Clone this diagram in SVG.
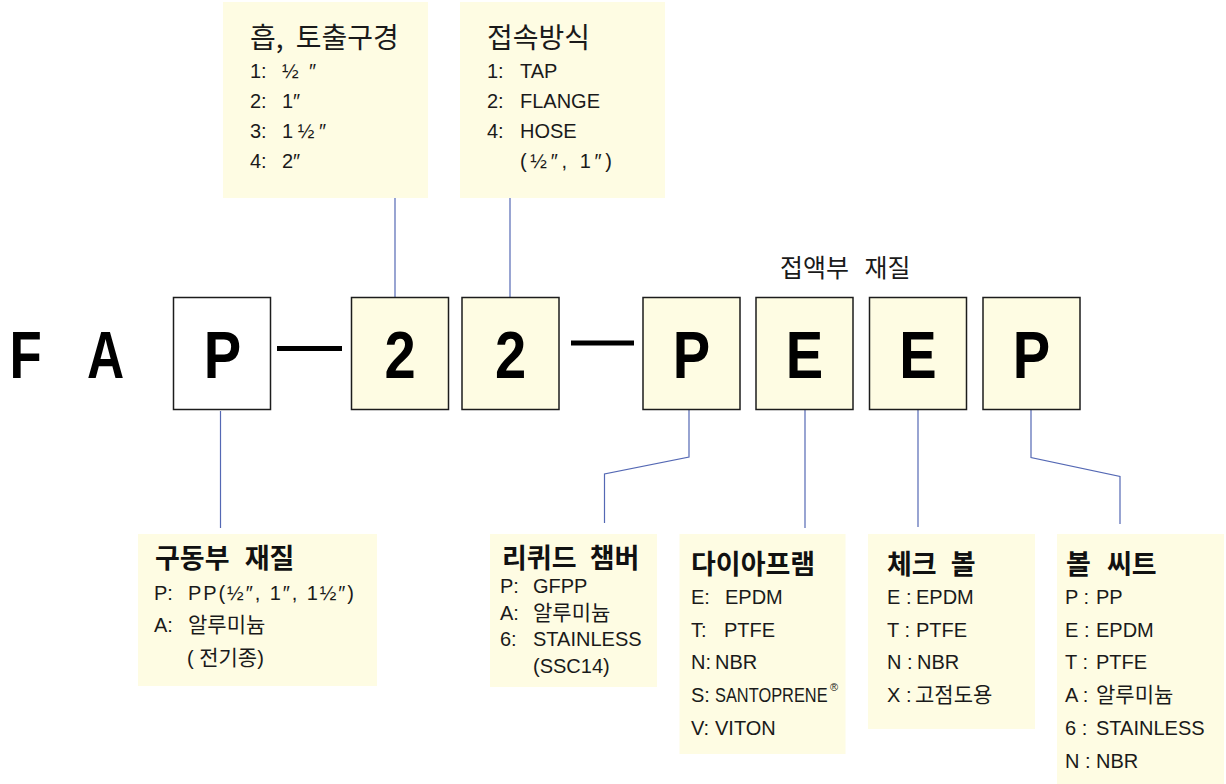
<svg xmlns="http://www.w3.org/2000/svg" width="1226" height="784" viewBox="0 0 1226 784">
<style>
.pad{fill:#fefce3}
.cell{fill:#fefce3;stroke:#1c1c1c;stroke-width:1.5}
.cellw{fill:#ffffff;stroke:#1c1c1c;stroke-width:1.5}
.big{font-family:'Liberation Sans',Arial,sans-serif;font-weight:bold;font-size:66px;fill:#000;text-anchor:middle}
.t{font-family:'Liberation Sans','Noto Sans CJK KR',sans-serif;font-size:20px;fill:#1a1a1a}
.sup{font-family:'Liberation Sans',sans-serif;font-size:11px;fill:#1a1a1a}
.k{font-family:'Noto Sans CJK KR',sans-serif;font-size:21px}
.h{font-family:'Noto Sans CJK KR',sans-serif;font-size:28px;fill:#1a1a1a}
.hb{font-family:'Noto Sans CJK KR',sans-serif;font-size:27px;font-weight:bold;fill:#111}
.lbl{font-family:'Noto Sans CJK KR',sans-serif;font-size:25px;fill:#1a1a1a}
.conn{stroke:#5468b4;stroke-width:1.2;fill:none}
.dash{stroke:#000;stroke-width:5}
</style>

<g id="connectors">
<path class="conn" d="M395 198 V297"/>
<path class="conn" d="M510 198 V297"/>
<path class="conn" d="M220.5 411 V528"/>
<path class="conn" d="M689 410 V457 L604.5 474 V523"/>
<path class="conn" d="M805 410 V528"/>
<path class="conn" d="M918 410 V527"/>
<path class="conn" d="M1031 410 V457.5 L1120 476.5 V524"/>
<line class="dash" x1="277" y1="348.5" x2="342" y2="348.5"/>
<line class="dash" x1="571" y1="343" x2="634" y2="343"/>
</g>

<g id="prefix">
<text class="big" transform="translate(25.5,378) scale(0.8,1)">F</text>
<text class="big" transform="translate(105.5,378) scale(0.78,1)">A</text>
</g>

<g id="cell-P1">
<rect class="cellw" x="173.5" y="297.5" width="97" height="112"/>
<text class="big" transform="translate(222.5,378) scale(0.85,1)">P</text>
</g>
<g id="cell-2a">
<rect class="cell" x="351.5" y="297.5" width="97" height="112"/>
<text class="big" transform="translate(400,378) scale(0.85,1)">2</text>
</g>
<g id="cell-2b">
<rect class="cell" x="462" y="297.5" width="97" height="112"/>
<text class="big" transform="translate(510.5,378) scale(0.85,1)">2</text>
</g>
<g id="cell-P2">
<rect class="cell" x="643" y="297.5" width="97" height="112"/>
<text class="big" transform="translate(691.5,378) scale(0.85,1)">P</text>
</g>
<g id="cell-E1">
<rect class="cell" x="756" y="297.5" width="97" height="112"/>
<text class="big" transform="translate(804.5,378) scale(0.85,1)">E</text>
</g>
<g id="cell-E2">
<rect class="cell" x="869.5" y="297.5" width="97" height="112"/>
<text class="big" transform="translate(918,378) scale(0.85,1)">E</text>
</g>
<g id="cell-P3">
<rect class="cell" x="983" y="297.5" width="97" height="112"/>
<text class="big" transform="translate(1031.5,378) scale(0.85,1)">P</text>
</g>

<g id="wetted-label">
<text class="lbl" x="780" y="277" word-spacing="10">접액부 재질</text>
</g>

<g id="port-size">
<rect class="pad" x="223" y="2" width="205" height="196"/>
<text class="h" x="250" y="48" word-spacing="6">흡, 토출구경</text>
<text class="t" x="250" y="78">1: <tspan x="282" textLength="34" lengthAdjust="spacing">½″</tspan></text>
<text class="t" x="250" y="108">2: <tspan x="282">1″</tspan></text>
<text class="t" x="250" y="138">3: <tspan x="282" textLength="44" lengthAdjust="spacing">1½″</tspan></text>
<text class="t" x="250" y="168">4: <tspan x="282">2″</tspan></text>
</g>

<g id="connection">
<rect class="pad" x="460" y="2" width="205" height="196"/>
<text class="h" x="487" y="48">접속방식</text>
<text class="t" x="487" y="78">1: <tspan x="520">TAP</tspan></text>
<text class="t" x="487" y="108">2: <tspan x="520">FLANGE</tspan></text>
<text class="t" x="487" y="138">4: <tspan x="520">HOSE</tspan></text>
<text class="t" x="520" y="168" textLength="92" lengthAdjust="spacing">(½″, 1″)</text>
</g>

<g id="drive-material">
<rect class="pad" x="138" y="534" width="239" height="152"/>
<text class="hb" x="155" y="568" word-spacing="9">구동부 재질</text>
<text class="t" x="154" y="600">P: <tspan x="188" textLength="166" lengthAdjust="spacing">PP(½″, 1″, 1½″)</tspan></text>
<text class="t" x="154" y="632">A: <tspan x="188" class="k">알루미늄</tspan></text>
<text class="t" x="187" y="665">( <tspan class="k">전기종</tspan>)</text>
</g>

<g id="liquid-chamber">
<rect class="pad" x="490" y="534" width="167" height="153"/>
<text class="hb" x="502" y="568" word-spacing="7">리퀴드 챔버</text>
<text class="t" x="500" y="593">P: <tspan x="533">GFPP</tspan></text>
<text class="t" x="500" y="620">A: <tspan x="533" class="k">알루미늄</tspan></text>
<text class="t" x="500" y="646">6: <tspan x="533">STAINLESS</tspan></text>
<text class="t" x="533" y="673">(SSC14)</text>
</g>

<g id="diaphragm">
<rect class="pad" x="679.5" y="534" width="166" height="220"/>
<text class="hb" x="691" y="574">다이아프램</text>
<text class="t" x="691" y="604">E: <tspan x="725">EPDM</tspan></text>
<text class="t" x="691" y="637">T: <tspan x="724">PTFE</tspan></text>
<text class="t" x="691" y="669">N:<tspan x="715">NBR</tspan></text>
<text class="t" x="691" y="702">S:</text>
<text class="t" transform="translate(715,702) scale(0.82,1)">SANTOPRENE</text>
<text class="sup" x="830" y="691">®</text>
<text class="t" x="691" y="735">V:<tspan x="715">VITON</tspan></text>
</g>

<g id="check-ball">
<rect class="pad" x="868" y="534" width="167" height="195"/>
<text class="hb" x="887" y="574" word-spacing="8">체크 볼</text>
<text class="t" x="887" y="604">E : <tspan x="916">EPDM</tspan></text>
<text class="t" x="887" y="637">T : <tspan x="916">PTFE</tspan></text>
<text class="t" x="887" y="669">N : <tspan x="917">NBR</tspan></text>
<text class="t" x="887" y="702">X : <tspan x="915" class="k">고점도용</tspan></text>
</g>

<g id="ball-seat">
<rect class="pad" x="1057" y="534" width="167" height="250"/>
<text class="hb" x="1066" y="574" word-spacing="10">볼 씨트</text>
<text class="t" x="1065" y="604">P : <tspan x="1096">PP</tspan></text>
<text class="t" x="1065" y="637">E : <tspan x="1096">EPDM</tspan></text>
<text class="t" x="1065" y="669">T : <tspan x="1096">PTFE</tspan></text>
<text class="t" x="1065" y="702">A : <tspan x="1096" class="k">알루미늄</tspan></text>
<text class="t" x="1065" y="735">6 : <tspan x="1096">STAINLESS</tspan></text>
<text class="t" x="1065" y="768">N : <tspan x="1096">NBR</tspan></text>
</g>
</svg>
